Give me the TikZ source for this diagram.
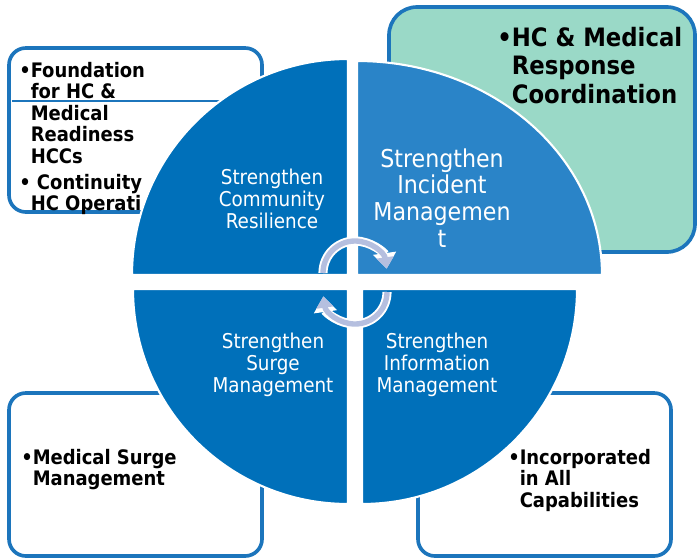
\documentclass[tikz,border=0pt]{standalone}
\usepackage{fontspec}
\setmainfont{DejaVu Sans Condensed}
\usetikzlibrary{arrows.meta}

\definecolor{pieblue}{HTML}{0070BA}
\definecolor{pielight}{HTML}{2A84C8}
\definecolor{boxblue}{HTML}{1C75BC}
\definecolor{boxteal}{HTML}{9AD9C7}
\definecolor{cyclecol}{HTML}{B5BFDF}

\newcommand{\bul}{\textbullet}
\newcommand{\hang}{\phantom{\textbullet}}

\tikzset{
  infobox/.style={draw=boxblue, line width=2.6pt, rounded corners=12pt},
  quad/.style={fill=pieblue, draw=white, line width=1.5pt},
  quadtext/.style={text=white, align=center, font=\fontsize{14.5}{15.6}\selectfont},
  boxtext/.style={align=left, inner sep=0pt, anchor=north west, font=\bfseries\fontsize{14.2}{15.3}\selectfont},
  cycwhite/.style={white, line width=6.5pt, -{Triangle[width=16pt,length=11pt]}},
  cyclav/.style={cyclecol, line width=3.8pt, -{Triangle[width=12pt,length=8pt]}}
}

\begin{document}
\begin{tikzpicture}[x=0.025cm, y=-0.025cm]
    \useasboundingbox (0,0) rectangle (697,559);

    % boxes behind the circle
    \draw[infobox] (9,48) rectangle (262,212);
    \draw[boxblue, line width=1.6pt] (12,101) -- (230,101);
    \node[boxtext] (fnd) at (19,62) {\bul Foundation\\\hang for HC \&\\\hang Medical\\\hang Readiness\\\hang HCCs\\[3pt]\bul\ Continuity\\\hang HC Operati};

    \draw[infobox, fill=boxteal, rounded corners=20pt] (389,7) rectangle (695,252);
    \node[boxtext, font=\bfseries\fontsize{18}{20.2}\selectfont] (hcm) at (497,27) {\bul HC \& Medical\\\hang Response\\\hang Coordination};

    \draw[infobox] (9,393) rectangle (262,556);
    \node[boxtext] (msm) at (21,449) {\bul Medical Surge\\\hang Management};

    \draw[infobox] (418,393) rectangle (671,556);
    \node[boxtext] (inc) at (508,449) {\bul Incorporated\\\hang in All\\\hang Capabilities};

    % the four quadrants
    \filldraw[quad] (348,275) -- (132,275) arc[start angle=180, end angle=270, radius=216] -- cycle;
    \filldraw[quad, fill=pielight] (357,275) -- (357,61) arc[start angle=270, end angle=360, x radius=245, y radius=214] -- cycle;
    \filldraw[quad] (348,289) -- (348,504) arc[start angle=90, end angle=180, radius=215] -- cycle;
    \filldraw[quad] (362,289) -- (577,289) arc[start angle=0, end angle=90, radius=215] -- cycle;

    \node[quadtext] (cres) at (272,199) {Strengthen\\Community\\Resilience};
    \node[quadtext, font=\fontsize{17.5}{19}\selectfont] (incm) at (442,198) {Strengthen\\Incident\\Managemen\\t};
    \node[quadtext] (surm) at (273,365) {Strengthen\\Surge\\Management};
    \node[quadtext] (infm) at (437,365) {Strengthen\\Information\\Management};

    % cycle arrows
    \draw[cycwhite] (323,273) arc[start angle=180, end angle=352, radius=32];
    \draw[cyclav] (323,273) arc[start angle=180, end angle=352, radius=32];
    \draw[cycwhite] (387,292) arc[start angle=0, end angle=172, radius=32];
    \draw[cyclav] (387,292) arc[start angle=0, end angle=172, radius=32];

\end{tikzpicture}
\end{document}
